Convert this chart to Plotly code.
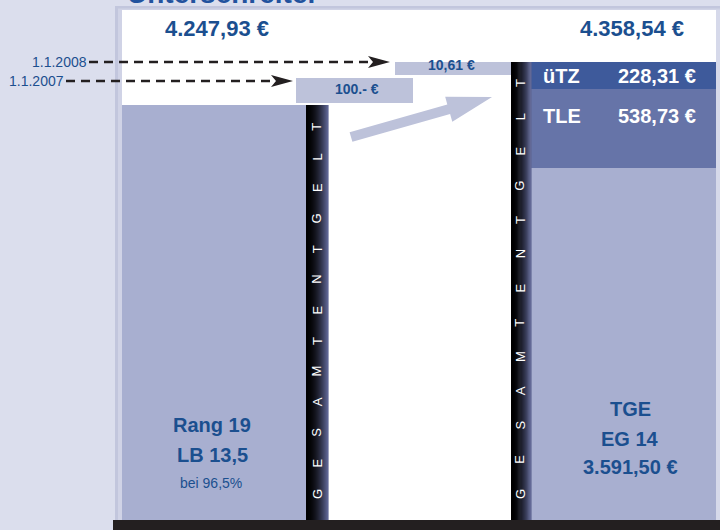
import math
import plotly.graph_objects as go

# ---------------- data (values printed in the infographic) ----------------
title_text = "Unterschreiter"
total_values = [4247.93, 4358.54]
total_labels = ["4.247,93 €", "4.358,54 €"]
step_dates = ["1.1.2007", "1.1.2008"]
step_values = [100.00, 10.61]
step_labels = ["100.- €", "10,61 €"]
right_names = ["TGE", "TLE", "üTZ"]
right_values = [3591.50, 538.73, 228.31]
right_labels = ["3.591,50 €", "538,73 €", "228,31 €"]
left_lines = ["Rang 19", "LB 13,5", "bei 96,5%"]
tge_lines = ["TGE", "EG 14", "3.591,50 €"]
strip_word = "GESAMTENTGELT"

# ---------------- layout / style (schematic, in pixel units) ----------------
W, H = 720, 530
def Y(py):  # page pixel row -> axis value (axis runs bottom-up)
    return H - py

BG = "#dbdeed"
BORDER = "#c2c6dd"
BAR = "#a8afd0"
BOX = "#bdc2da"
TLE_C = "#6674a8"
UTZ_C = "#3e5a9b"
TXT = "#1b4f8f"
DARK = "#231f20"
FONT = "Liberation Sans, Arial, sans-serif"

# segment geometry (display heights are schematic, not to scale)
left_bar = dict(x0=122, x1=306, top=105, bottom=520)
step_boxes = [dict(x0=296, x1=413, top=78, bottom=103),
              dict(x0=395, x1=512, top=62, bottom=75)]
right_x = (531, 716)
right_tops = [168, 89, 62]      # TGE, TLE, üTZ tops
right_bottoms = [520, 168, 89]
right_colors = [BAR, TLE_C, UTZ_C]

fig = go.Figure()

def add_block(x0, x1, top, bottom, color, name):
    fig.add_trace(go.Bar(
        x=[(x0 + x1) / 2], y=[bottom - top], base=[Y(bottom)], width=[x1 - x0],
        marker=dict(color=color, line=dict(width=0)), name=name,
        hoverinfo="skip", showlegend=False))

add_block(left_bar["x0"], left_bar["x1"], left_bar["top"], left_bar["bottom"], BAR, total_labels[0])
for b, lab in zip(step_boxes, step_labels):
    add_block(b["x0"], b["x1"], b["top"], b["bottom"], BOX, lab)
for name, t, bt, c in zip(right_names, right_tops, right_bottoms, right_colors):
    add_block(right_x[0], right_x[1], t, bt, c, name)

shapes = []
# panel border + white panel
shapes.append(dict(type="rect", x0=115, x1=720, y0=Y(521), y1=Y(6), fillcolor=BORDER,
                   line=dict(width=0), layer="below"))
shapes.append(dict(type="rect", x0=118, x1=720, y0=Y(521), y1=Y(8.5), fillcolor="#d0d3e6",
                   line=dict(width=0), layer="below"))
shapes.append(dict(type="rect", x0=122, x1=716, y0=Y(520), y1=Y(10), fillcolor="white",
                   line=dict(width=0), layer="below"))
shapes.append(dict(type="rect", x0=716, x1=720, y0=Y(520), y1=Y(10), fillcolor="#d6d9ea",
                   line=dict(width=0), layer="below"))

# gradient strips (black -> slate blue)
def strip(x0, x1, top, bottom, n=22):
    c1 = (0x5e, 0x65, 0x93)
    w = (x1 - x0) / n
    for i in range(n):
        t = (i / (n - 1)) ** 1.8
        col = "rgb(%d,%d,%d)" % tuple(int(c * t) for c in c1)
        shapes.append(dict(type="rect", x0=x0 + i * w, x1=x0 + (i + 1) * w + 0.6,
                           y0=Y(bottom), y1=Y(top), fillcolor=col, line=dict(width=0)))
strip(306, 328, 105, 520)
strip(511, 531, 62, 520)

# bottom black bar
shapes.append(dict(type="rect", x0=113, x1=720, y0=0, y1=Y(520), fillcolor=DARK,
                   line=dict(width=0)))

# arrowheads for the dashed pointers
def head(tip_x, y, length=22, half=6, notch=5):
    bx = tip_x - length
    return (f"M {tip_x},{Y(y)} L {bx},{Y(y - half)} L {bx + notch},{Y(y)} "
            f"L {bx},{Y(y + half)} Z")
arrow_rows = [dict(start=66, tip=293, y=81), dict(start=89, tip=390, y=62)]
for a in arrow_rows:
    shapes.append(dict(type="path", path=head(a["tip"], a["y"]), fillcolor=DARK,
                       line=dict(width=0)))
    fig.add_trace(go.Scatter(x=[a["start"], a["tip"] - 18], y=[Y(a["y"]), Y(a["y"])],
                             mode="lines", line=dict(color=DARK, width=2.6, dash="9px,6px"),
                             hoverinfo="skip", showlegend=False))

# big light arrow
S = (351, 137); T = (492, 97)
dx, dy = T[0] - S[0], T[1] - S[1]
L = math.hypot(dx, dy)
d = (dx / L, dy / L); nrm = (-d[1], d[0])
hl, hw, sw = 45, 13, 5
B = (T[0] - hl * d[0], T[1] - hl * d[1])
pts = [(S[0] + sw * nrm[0], S[1] + sw * nrm[1]),
       (B[0] + sw * nrm[0], B[1] + sw * nrm[1]),
       (B[0] + hw * nrm[0], B[1] + hw * nrm[1]),
       T,
       (B[0] - hw * nrm[0], B[1] - hw * nrm[1]),
       (B[0] - sw * nrm[0], B[1] - sw * nrm[1]),
       (S[0] - sw * nrm[0], S[1] - sw * nrm[1])]
path = "M " + " L ".join(f"{px:.1f},{Y(py):.1f}" for px, py in pts) + " Z"
shapes.append(dict(type="path", path=path, fillcolor=BOX, line=dict(width=0)))

ann = []
def text(x, y, s, size, color=TXT, bold=True, xanchor="center", **kw):
    ann.append(dict(x=x, y=Y(y), xref="x", yref="y", text=f"<b>{s}</b>" if bold else s,
                    showarrow=False, xanchor=xanchor, yanchor="middle",
                    font=dict(family=FONT, size=size, color=color), **kw))

# title (cut at the top edge, as in the original)
ann.append(dict(x=125 / W, y=(H - 10.5) / H, xref="paper", yref="paper",
                text=f"<b>{title_text}</b>",
                showarrow=False, xanchor="left", yanchor="bottom",
                font=dict(family=FONT, size=28, color="#22529e")))

text(217, 28, total_labels[0], 22)
text(632, 28, total_labels[1], 22)
text(357, 89, step_labels[0], 14)
text(451, 65, step_labels[1], 14)
text(66, 81, step_dates[0], 14, bold=False, xanchor="right")
text(89, 62, step_dates[1], 14, bold=False, xanchor="right")

text(541, 76, right_names[2], 20, color="white", xanchor="left")
text(698, 76, right_labels[2], 20, color="white", xanchor="right")
text(541, 116, right_names[1], 20, color="white", xanchor="left")
text(698, 116, right_labels[1], 20, color="white", xanchor="right")

text(212, 425, left_lines[0], 20)
text(212, 455, left_lines[1], 20)
text(211, 483, left_lines[2], 14, bold=False)
text(630, 409, tge_lines[0], 20)
text(630, 439, tge_lines[1], 20)
text(630, 467, tge_lines[2], 20)

# vertical strip lettering (bottom -> top)
for xc, y_bottom, step in [(317, 494, 30.6), (520, 494, 34.25)]:
    for i, ch in enumerate(strip_word):
        ann.append(dict(x=xc, y=Y(y_bottom - i * step), xref="x", yref="y", text=ch,
                        showarrow=False, textangle=-90, xanchor="center", yanchor="middle",
                        font=dict(family=FONT, size=13, color="white")))

fig.update_layout(
    width=W, height=H, margin=dict(l=0, r=0, t=0, b=0),
    paper_bgcolor=BG, plot_bgcolor="rgba(0,0,0,0)",
    xaxis=dict(range=[0, W], visible=False, fixedrange=True),
    yaxis=dict(range=[0, H], visible=False, fixedrange=True),
    barmode="overlay", bargap=0, shapes=shapes, annotations=ann, showlegend=False,
)
fig.write_html("out.html", config={"displayModeBar": False},
               post_script="document.body.style.margin='0';")
